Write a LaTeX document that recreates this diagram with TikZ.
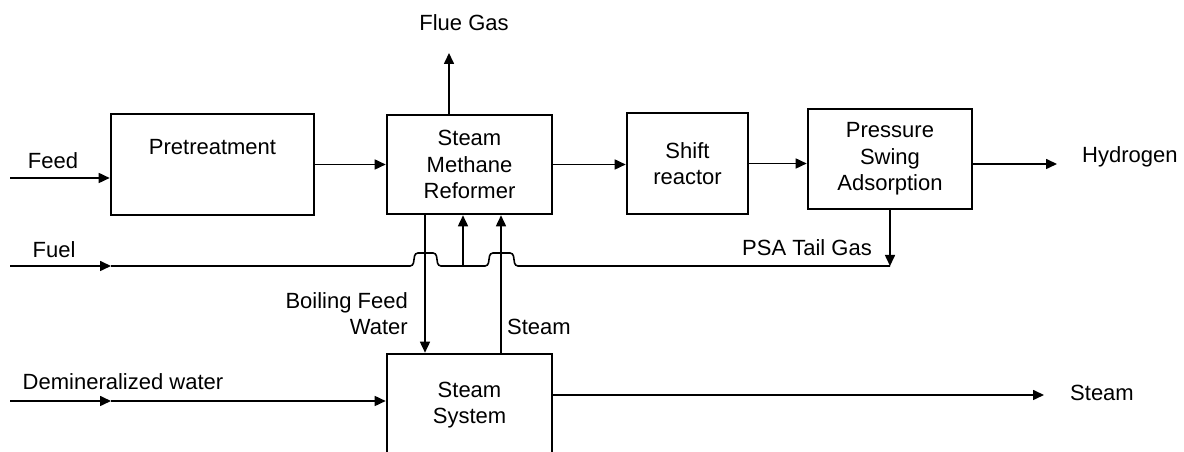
\documentclass[tikz,border=0pt]{standalone}
\usepackage{fontspec}
\setmainfont{Liberation Sans}
\usetikzlibrary{arrows.meta,positioning}

\begin{document}
\begin{tikzpicture}[x=1pt,y=1pt,
    unit/.style={draw, line width=2.6pt, align=center, inner sep=0pt,
        font=\fontsize{22}{26.5}\selectfont},
    flow/.style={line width=1.6pt, -{Triangle[length=11pt,width=10pt]}},
    pipe/.style={line width=1.6pt},
    lbl/.style={inner sep=0pt, font=\fontsize{22}{26.5}\selectfont}]
    \clip (0,0) rectangle (1184,452);

    % process units
    \node[unit, minimum width=203pt, minimum height=101pt] (pre) at (212.5,287.5) {Pretreatment\\\strut};
    \node[unit, minimum width=165pt, minimum height=99pt] (smr) at (469.5,287.5) {Steam\\Methane\\Reformer};
    \node[unit, minimum width=121pt, minimum height=101pt] (shift) at (687.5,288.5) {Shift\\reactor};
    \node[unit, minimum width=164pt, minimum height=100pt] (psa) at (890,293) {Pressure\\Swing\\Adsorption};
    \node[unit, minimum width=165pt, minimum height=102pt] (steam) at (469.5,47) {Steam\\System};

    % stream ends
    \coordinate (feedin) at (10,274);
    \coordinate (fuelin) at (10,186);
    \coordinate (fuelmid) at (111,186);
    \coordinate (demin) at (10,51);
    \coordinate (deminmid) at (111,51);
    \coordinate (flue) at (449,399);
    \coordinate (h2out) at (1057,288);
    \coordinate (steamout) at (1044,57);
    \coordinate (tail) at (psa.south |- fuelin);

    % main line
    \draw[flow] (feedin) -- (feedin -| pre.west);
    \draw[flow] (pre) -- (smr);
    \draw[flow] (smr.east) -- (smr.east -| shift.west);
    \draw[flow] (shift.east) -- (shift.east -| psa.west);
    \draw[flow] (h2out -| psa.east) -- (h2out);
    \draw[flow] (flue |- smr.north) -- (flue);

    % fuel and tail gas
    \draw[flow] (fuelin) -- (fuelmid);
    \draw[pipe, rounded corners=3pt] (fuelmid) -- (413,186) -- (415,199) -- (436,199) -- (438,186)
        -- (488,186) -- (490,199) -- (513,199) -- (515,186) -- (tail);
    \draw[flow] (psa.south) -- (tail);
    \draw[flow] ([xshift=-6.5pt]smr.south |- fuelin) -- ([xshift=-6.5pt]smr.south);

    % water and steam
    \draw[flow] ([xshift=-44.5pt]smr.south) -- ([xshift=-44.5pt]steam.north);
    \draw[flow] ([xshift=31.5pt]steam.north) -- ([xshift=31.5pt]smr.south);
    \draw[flow] (demin) -- (deminmid);
    \draw[flow] (deminmid) -- (deminmid -| steam.west);
    \draw[flow] (steamout -| steam.east) -- (steamout);

    % labels
    \node[lbl] (feedlbl) at (53,291) {Feed};
    \node[lbl] (fuellbl) at (54,202) {Fuel};
    \node[lbl] (deminlbl) at (123,70) {Demineralized water};
    \node[lbl] (fluelbl) at (464,429) {Flue Gas};
    \node[lbl, anchor=west] (h2lbl) at (1082,295) {Hydrogen};
    \node[lbl, anchor=east] (taillbl) at (872,204) {PSA Tail Gas};
    \node[lbl, anchor=east, align=right] (bfwlbl) at (408,138.5) {Boiling Feed\\Water};
    \node[lbl, anchor=west] (steamlbl) at (507,125) {Steam};
    \node[lbl] (steamoutlbl) at (1102,59) {Steam};
\end{tikzpicture}
\end{document}
